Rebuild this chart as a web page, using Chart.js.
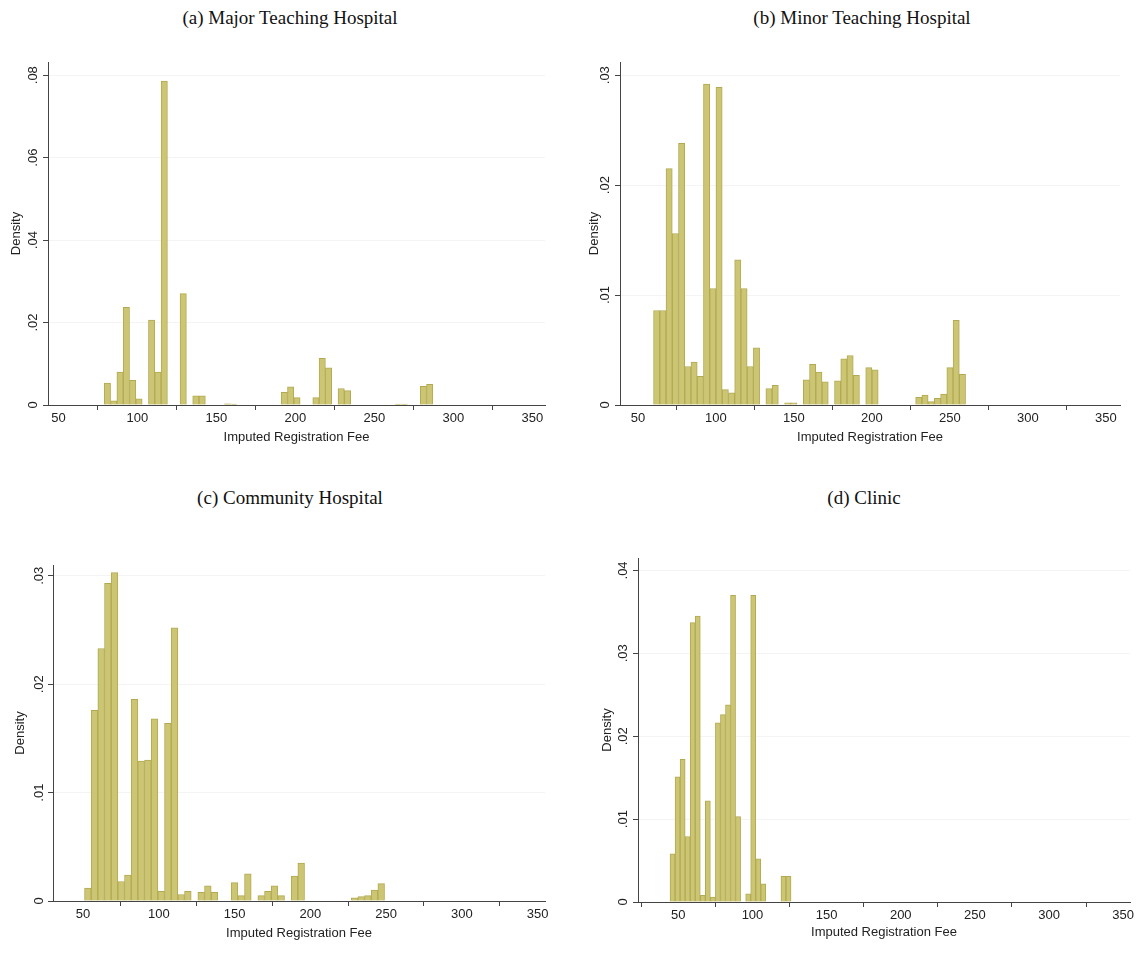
<!DOCTYPE html>
<html>
<head>
<meta charset="utf-8">
<script src="https://cdn.jsdelivr.net/npm/chart.js@4.4.1/dist/chart.umd.min.js"></script>
<style>
  body { margin: 0; background: #fff; width: 1140px; height: 955px; position: relative; overflow: hidden; }
  canvas { position: absolute; }
  .ttl { position: absolute; font-family: "Liberation Serif", "Times New Roman", serif; font-size: 19px;
         line-height: 24px; color: #111; white-space: nowrap; transform: translateX(-50%); }
</style>
</head>
<body>
<div class="ttl" style="left:290px; top:6px">(a) Major Teaching Hospital</div>
<div class="ttl" style="left:862px; top:6px">(b) Minor Teaching Hospital</div>
<div class="ttl" style="left:290px; top:486px">(c) Community Hospital</div>
<div class="ttl" style="left:864px; top:486px">(d) Clinic</div>

<canvas id="chartA" width="560" height="420" style="left:0; top:40px"></canvas>
<canvas id="chartB" width="565" height="420" style="left:575px; top:40px"></canvas>
<canvas id="chartC" width="575" height="430" style="left:0; top:520px"></canvas>
<canvas id="chartD" width="555" height="430" style="left:585px; top:520px"></canvas>

<script>
// ---- data (densities, one value per histogram bin) ----
const xTicks = [50, 100, 150, 200, 250, 300, 350];

// (a) Major Teaching Hospital: bins of width 4 starting at 79
const binStartA = 79, binWidthA = 4;
const densityA = [
  0.0053, 0.0010, 0.0080, 0.0237, 0.0060, 0.0015, 0, 0.0206, 0.0080, 0.0786,
  0, 0, 0.0270, 0, 0.0022, 0.0022, 0, 0, 0, 0.0003,
  0.0002, 0, 0, 0, 0, 0, 0, 0, 0.0031, 0.0044,
  0.0018, 0, 0, 0.0018, 0.0113, 0.0090, 0, 0.0040, 0.0035, 0,
  0, 0, 0, 0, 0, 0, 0.0002, 0.0002, 0, 0,
  0.0045, 0.0050
];
const yTicksA = [0, 0.02, 0.04, 0.06, 0.08];

// (b) Minor Teaching Hospital: bins of width 4 starting at 60
const binStartB = 60, binWidthB = 4;
const densityB = [
  0.0086, 0.0086, 0.0215, 0.0156, 0.0238, 0.0035, 0.0039, 0.0026, 0.0292, 0.0106,
  0.0289, 0.0014, 0.0011, 0.0132, 0.0106, 0.0035, 0.0052, 0, 0.0015, 0.0018,
  0, 0.0002, 0.0002, 0, 0.0023, 0.0037, 0.0030, 0.0021, 0, 0.0022,
  0.0042, 0.0045, 0.0027, 0, 0.0034, 0.0032, 0, 0, 0, 0,
  0, 0, 0.0007, 0.0009, 0.0003, 0.0006, 0.0010, 0.0034, 0.0077, 0.0028
];
const yTicksB = [0, 0.01, 0.02, 0.03];

// (c) Community Hospital: bins of width 4.4 starting at 51
const binStartC = 51, binWidthC = 4.4;
const densityC = [
  0.0012, 0.0176, 0.0233, 0.0293, 0.0303, 0.0018, 0.0024, 0.0186, 0.0129, 0.0130,
  0.0168, 0.0009, 0.0164, 0.0252, 0.0006, 0.0009, 0, 0.0008, 0.0014, 0.0008,
  0, 0, 0.0017, 0.0005, 0.0025, 0, 0.0005, 0.0009, 0.0014, 0.0005,
  0, 0.0023, 0.0035, 0, 0, 0, 0, 0, 0, 0,
  0.0003, 0.0004, 0.0005, 0.0010, 0.0016
];
const yTicksC = [0, 0.01, 0.02, 0.03];

// (d) Clinic: bins of width 3.4 starting at 44.4
const binStartD = 44.4, binWidthD = 3.4;
const densityD = [
  0.0058, 0.0151, 0.0172, 0.0079, 0.0337, 0.0345, 0.0008, 0.0122, 0.0006, 0.0216,
  0.0226, 0.0238, 0.0370, 0.0103, 0, 0.0010, 0.0370, 0.0052, 0.0022, 0,
  0, 0, 0.0031, 0.0031
];
const yTicksD = [0, 0.01, 0.02, 0.03, 0.04];

// ---- styling ----
const barFill = 'rgb(204, 197, 115)';
const barEdge = 'rgb(178, 170, 82)';
const axisColor = '#444';
const gridColor = 'rgba(0, 0, 0, 0.045)';
const textColor = '#222';
const labelFont = { family: '"Liberation Sans", Arial, sans-serif', size: 13 };

function toBins(start, width, dens) {
  return dens.map((d, i) => ({ x: start + width * (i + 0.5), y: d }));
}

function densityLabel(v) {
  return v === 0 ? '0' : String(v).replace(/^0/, '');
}

function histogram(id, o) {
  return new Chart(document.getElementById(id), {
    type: 'bar',
    data: {
      datasets: [{
        data: toBins(o.start, o.width, o.dens),
        backgroundColor: barFill,
        borderColor: barEdge,
        borderWidth: 1,
        borderSkipped: 'start',
        barPercentage: 1,
        categoryPercentage: 1
      }]
    },
    options: {
      responsive: false,
      animation: false,
      events: [],
      layout: { padding: { left: 0, top: o.padTop, right: o.padRight, bottom: 0 } },
      plugins: { legend: { display: false }, tooltip: { enabled: false } },
      scales: {
        x: {
          type: 'linear',
          min: o.xMin,
          max: o.xMax,
          offset: false,
          afterBuildTicks: s => { s.ticks = xTicks.map(v => ({ value: v })); },
          afterFit: s => { s.height = o.xAxisH; },
          grid: { drawOnChartArea: false, drawTicks: true, tickLength: 5, tickColor: axisColor },
          border: { color: axisColor, width: 1 },
          ticks: { font: labelFont, color: textColor, padding: 1, maxRotation: 0, autoSkip: false },
          title: { display: true, text: 'Imputed Registration Fee', font: labelFont, color: textColor,
                   padding: { top: 0, bottom: o.xTitlePad } }
        },
        y: {
          min: 0,
          max: o.yMax,
          afterBuildTicks: s => { s.ticks = o.yTicks.map(v => ({ value: v })); },
          afterFit: s => { s.width = o.yAxisW; },
          grid: {
            color: ctx => (ctx.tick && ctx.tick.value > 0 ? gridColor : 'rgba(0,0,0,0)'),
            tickColor: axisColor,
            tickLength: 5
          },
          border: { color: axisColor, width: 1 },
          ticks: { font: labelFont, color: textColor, minRotation: 90, maxRotation: 90,
                   crossAlign: 'center', padding: o.yTickPad, callback: densityLabel },
          title: { display: true, text: 'Density', font: labelFont, color: textColor,
                   padding: { top: o.yTitlePad, bottom: 0 } }
        }
      }
    }
  });
}

histogram('chartA', {
  start: binStartA, width: binWidthA, dens: densityA, yTicks: yTicksA,
  xMin: 43.4, xMax: 358.0, yMax: 0.0832,
  padTop: 22, padRight: 15, yAxisW: 48, xAxisH: 55,
  yTickPad: 1, yTitlePad: 9, xTitlePad: 15
});

histogram('chartB', {
  start: binStartB, width: binWidthB, dens: densityB, yTicks: yTicksB,
  xMin: 38.5, xMax: 359, yMax: 0.0312,
  padTop: 22, padRight: 20, yAxisW: 45, xAxisH: 55,
  yTickPad: 1, yTitlePad: 12, xTitlePad: 15
});

histogram('chartC', {
  start: binStartC, width: binWidthC, dens: densityC, yTicks: yTicksC,
  xMin: 30.2, xMax: 354.9, yMax: 0.031,
  padTop: 45, padRight: 30, yAxisW: 53, xAxisH: 49,
  yTickPad: 0, yTitlePad: 13, xTitlePad: 9
});

histogram('chartD', {
  start: binStartD, width: binWidthD, dens: densityD, yTicks: yTicksD,
  xMin: 22.8, xMax: 354.6, yMax: 0.0415,
  padTop: 38, padRight: 10, yAxisW: 53, xAxisH: 48,
  yTickPad: 1, yTitlePad: 15, xTitlePad: 10
});
</script>
</body>
</html>
